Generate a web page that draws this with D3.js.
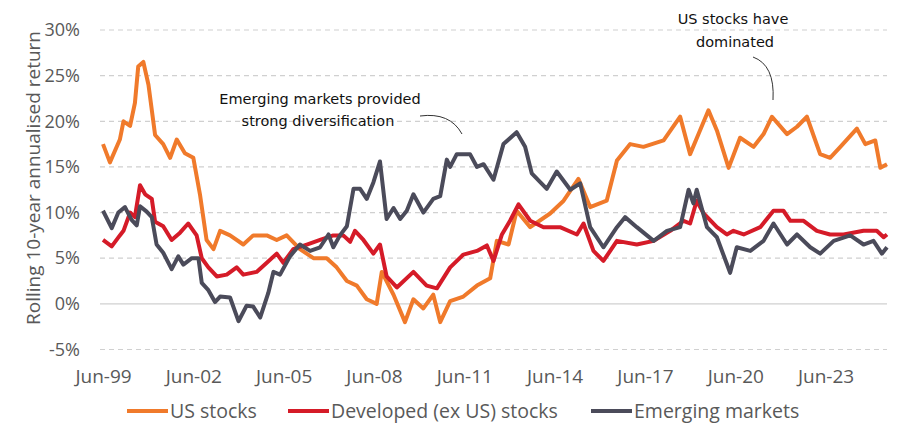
<!DOCTYPE html>
<html lang="en">
<head>
<meta charset="UTF-8">
<title>Rolling 10-year returns</title>
<script src="https://d3js.org/d3.v7.min.js"></script>
<style>
  body { margin: 0; background: #fff; }
  .tick text { font-family: "Open Sans", sans-serif; fill: #595959; }
</style>
</head>
<body>
<svg width="903" height="427"></svg>
<script>
// x = years since Jun-99, y = rolling 10-year annualised return (%)
var tickYears = [0, 3, 6, 9, 12, 15, 18, 21, 24];
var tickLabels = ["Jun-99", "Jun-02", "Jun-05", "Jun-08", "Jun-11", "Jun-14", "Jun-17", "Jun-20", "Jun-23"];
var yTicks = [-5, 0, 5, 10, 15, 20, 25, 30];

var usStocks = [[0,17.5],[.23,15.5],[.56,18],[.68,20],[.9,19.5],[1.06,22],[1.17,26],[1.34,26.5],[1.51,24],[1.73,18.5],[2.0,17.5],[2.23,16],[2.45,18],[2.72,16.5],[3.0,16],[3.22,12],[3.44,7],[3.67,6],[3.89,8],[4.22,7.5],[4.66,6.5],[4.99,7.5],[5.44,7.5],[5.77,7],[6.1,7.5],[6.54,6],[6.99,5],[7.43,5],[7.76,4],[8.1,2.5],[8.43,2],[8.76,0.5],[9.09,0],[9.26,3.5],[9.65,1],[10.03,-2],[10.31,0.5],[10.64,-0.5],[10.97,1],[11.2,-2],[11.53,0.3],
  [11.97,0.8],[12.42,2],[12.86,2.8],[13.08,6.9],[13.47,6.5],[13.74,10.2],[14.19,8.4],[14.85,9.9],[15.3,11.3],[15.79,13.7],[16.18,10.6],[16.73,11.3],[17.07,15.7],[17.51,17.5],[17.95,17.2],[18.62,17.9],[19.17,20.5],[19.5,16.4],[19.78,18.6],[20.11,21.2],[20.39,19],[20.78,14.9],[21.16,18.2],[21.61,17.2],[21.94,18.6],[22.22,20.5],[22.72,18.6],[23.05,19.4],[23.38,20.5],[23.82,16.4],[24.15,16],[24.49,17.2],[25.04,19.2],[25.32,17.5],[25.65,17.9],[25.82,14.9],[26.04,15.3]];

var developed = [[0,7],[.29,6.3],[.56,7.5],[.68,8],[.9,10],[1.06,9.5],[1.23,13],[1.4,12],[1.62,11.5],[1.73,9],[2.0,8.5],[2.28,7],[2.56,7.8],[2.83,8.8],[3.11,7.5],[3.28,5],[3.5,4],[3.78,3],[4.11,3.2],[4.44,4],[4.66,3.2],[5.1,3.5],[5.44,4.5],[5.77,5.5],[5.99,4.5],[6.32,6],[6.77,6.5],[7.21,7],[7.65,7.5],[7.98,7.5],[8.21,6.8],[8.37,8],[8.65,7],[8.98,5.5],[9.2,6.5],[9.42,3],[9.76,1.8],[10.31,3.5],[10.75,2],[11.09,1.7],[11.53,4],
  [11.97,5.4],[12.42,5.8],[12.75,6.4],[12.97,4.7],[13.25,7.6],[13.52,9.1],[13.8,10.9],[14.19,9.1],[14.63,8.4],[15.18,8.4],[15.74,7.6],[15.96,8.8],[16.29,5.8],[16.62,4.7],[17.07,6.9],[17.73,6.5],[18.29,6.9],[18.84,8],[19.28,9.1],[19.5,8.8],[19.72,11.3],[19.95,9.9],[20.39,8.4],[20.72,7.6],[20.94,8],[21.28,7.6],[21.83,8.4],[22.27,10.2],[22.6,10.2],[22.83,9.1],[23.27,9.1],[23.71,8],[24.15,7.6],[24.6,7.6],[25.26,8],[25.7,8],[25.93,7.3],[26.04,7.6]];

var emerging = [[0,10.2],[.29,8.3],[.51,10],[.73,10.6],[.95,9.2],[1.12,8.6],[1.23,10.7],[1.45,10.1],[1.62,9.5],[1.78,6.5],[2.0,5.6],[2.28,3.8],[2.5,5.2],[2.67,4.3],[2.95,5],[3.17,5],[3.28,2.3],[3.5,1.5],[3.72,0.2],[3.89,0.8],[4.22,0.7],[4.5,-1.9],[4.77,-0.2],[4.99,-0.3],[5.22,-1.5],[5.49,1.2],[5.66,3.5],[5.88,3.2],[6.21,5.2],[6.54,6.5],[6.88,5.8],[7.21,6.2],[7.49,7.6],[7.65,6.2],[7.87,7.5],[8.1,8.5],[8.32,12.6],[8.54,12.6],[8.76,11.5],[8.98,13.3],[9.2,15.6],[9.42,9.3],[9.65,10.5],[9.87,9.3],[10.09,10.2],[10.31,12],[10.64,10],[10.97,11.5],[11.2,11.8],[11.42,15.8],[11.53,15],
  [11.75,16.4],[12.19,16.4],[12.42,15],[12.64,15.3],[12.97,13.6],[13.3,17.5],[13.74,18.8],[14.02,17.2],[14.24,14.3],[14.74,12.6],[15.07,14.5],[15.52,12.5],[15.85,13.2],[16.18,8.4],[16.62,6.2],[17.07,8.4],[17.34,9.5],[17.73,8.4],[18.29,6.9],[18.73,8],[19.17,8.4],[19.45,12.5],[19.61,11],[19.72,12.5],[20.06,8.4],[20.39,7.3],[20.83,3.4],[21.05,6.2],[21.5,5.8],[21.94,6.9],[22.27,8.8],[22.72,6.5],[23.05,7.6],[23.49,6.2],[23.82,5.5],[24.27,6.9],[24.82,7.5],[25.26,6.5],[25.59,6.9],[25.87,5.5],[26.04,6.2]];

var seriesNames = ["US stocks", "Developed (ex US) stocks", "Emerging markets"];
var seriesColors = ["#F07A2B", "#D51B28", "#4B4B5A"];
var seriesData = [usStocks, developed, emerging];

var svg = d3.select("svg");
var x = d3.scaleLinear().domain([0, 26.04]).range([103, 887]);
var y = d3.scaleLinear().domain([-5, 30]).range([349.5, 30]);

// gridlines
svg.append("g").selectAll("line")
    .data(yTicks).enter().append("line")
    .attr("x1", 100).attr("x2", 887)
    .attr("y1", function(d) { return y(d); })
    .attr("y2", function(d) { return y(d); })
    .attr("stroke", "#d0d0d0")
    .attr("stroke-width", 1.2)
    .attr("stroke-dasharray", function(d) { return d === 0 ? null : "5,4"; });

var yAxis = svg.append("g")
    .attr("transform", "translate(83,0)")
    .call(d3.axisLeft(y).tickValues(yTicks).tickSize(0).tickFormat(function(d) { return d + "%"; }));
yAxis.select(".domain").remove();
yAxis.selectAll("text").attr("font-size", 18);

var xAxis = svg.append("g")
    .attr("transform", "translate(0,366)")
    .call(d3.axisBottom(x).tickValues(tickYears).tickSize(0).tickFormat(function(d, i) { return tickLabels[i]; }));
xAxis.select(".domain").remove();
xAxis.selectAll("text").attr("font-size", 19);

svg.append("text")
    .attr("transform", "translate(40,178) rotate(-90)")
    .attr("text-anchor", "middle")
    .attr("font-family", "Open Sans, sans-serif")
    .attr("font-size", 19)
    .attr("fill", "#595959")
    .text("Rolling 10-year annualised return");

var line = d3.line().x(function(d) { return x(d[0]); }).y(function(d) { return y(d[1]); });
[0, 1, 2].forEach(function(i) {
    svg.append("path")
        .datum(seriesData[i])
        .attr("d", line)
        .attr("fill", "none")
        .attr("stroke", seriesColors[i])
        .attr("stroke-width", 4)
        .attr("stroke-linejoin", "round");
});

// annotations
var note = svg.append("g")
    .attr("font-family", "DejaVu Sans, sans-serif")
    .attr("font-size", 14.5)
    .attr("fill", "#111")
    .attr("text-anchor", "middle");
note.append("text").attr("x", 320).attr("y", 104).text("Emerging markets provided");
note.append("text").attr("x", 318).attr("y", 126).text("strong diversification");
note.append("text").attr("x", 733).attr("y", 24).text("US stocks have");
note.append("text").attr("x", 735).attr("y", 47).text("dominated");
svg.append("path").attr("d", "M420,116 Q450,112 462,134").attr("fill", "none").attr("stroke", "#333").attr("stroke-width", 1);
svg.append("path").attr("d", "M753,57 Q775,65 773,100").attr("fill", "none").attr("stroke", "#333").attr("stroke-width", 1);

// legend
var legendX = [127, 288, 591];
var legend = svg.append("g");
seriesNames.forEach(function(n, i) {
    legend.append("line")
        .attr("x1", legendX[i]).attr("x2", legendX[i] + 41)
        .attr("y1", 411).attr("y2", 411)
        .attr("stroke", seriesColors[i]).attr("stroke-width", 4);
    legend.append("text")
        .attr("x", legendX[i] + 43).attr("y", 418)
        .attr("font-family", "Open Sans, sans-serif")
        .attr("font-size", 19.5)
        .attr("fill", "#595959")
        .text(n);
});
</script>
</body>
</html>
